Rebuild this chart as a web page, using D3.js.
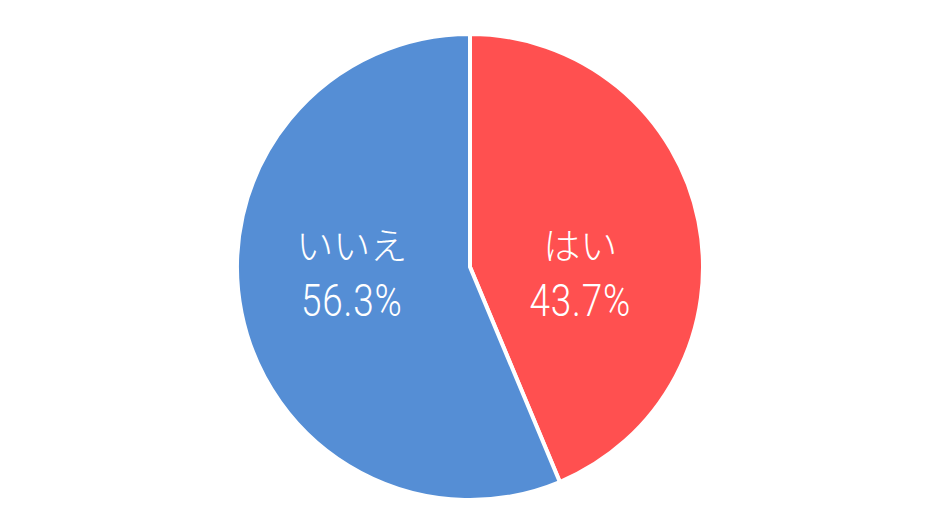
<!DOCTYPE html>
<html><head><meta charset="utf-8">
<script src="https://cdn.jsdelivr.net/npm/d3@7"></script>
<style>html,body{margin:0;padding:0;background:#fff;}</style>
</head><body>
<svg id="chart" width="940" height="530"></svg>
<script>
const categories = ["はい", "いいえ"];
const values = [43.7, 56.3];
const labels = ["43.7%", "56.3%"];
const colors = ["#FF5050", "#558ED5"];

const svg = d3.select("#chart");
const cx = 470, cy = 267, r = 233;
const g = svg.append("g").attr("transform", `translate(${cx},${cy})`);
const pie = d3.pie().sort(null).value(d => d)(values);
const arc = d3.arc().innerRadius(0).outerRadius(r);
g.selectAll("path").data(pie).enter().append("path")
  .attr("d", arc).attr("fill", (d, i) => colors[i])
  .attr("stroke", "#fff").attr("stroke-width", 4).attr("stroke-linejoin", "round");
const la = d3.arc().innerRadius(r * 0.5).outerRadius(r * 0.5);
const lab = g.selectAll("g.lab").data(pie).enter().append("g")
  .attr("transform", d => { const c = la.centroid(d); return `translate(${c[0] - 4},0)`; });
lab.each(function(d, i) {
  const s = d3.select(this);
  s.append("text").attr("text-anchor", "middle").attr("y", -7)
    .attr("fill", "#fff").style("font-family", "'Noto Sans CJK JP', sans-serif")
    .style("font-weight", 300).style("font-size", "37px").text(categories[i]);
  s.append("text").attr("text-anchor", "middle")
    .attr("transform", "translate(0,49) scale(0.82,1)")
    .attr("fill", "#fff").style("font-family", "Roboto, sans-serif")
    .style("font-weight", 300).style("font-size", "45px").style("letter-spacing", "1px")
    .text(labels[i]);
});
</script>
</body></html>
